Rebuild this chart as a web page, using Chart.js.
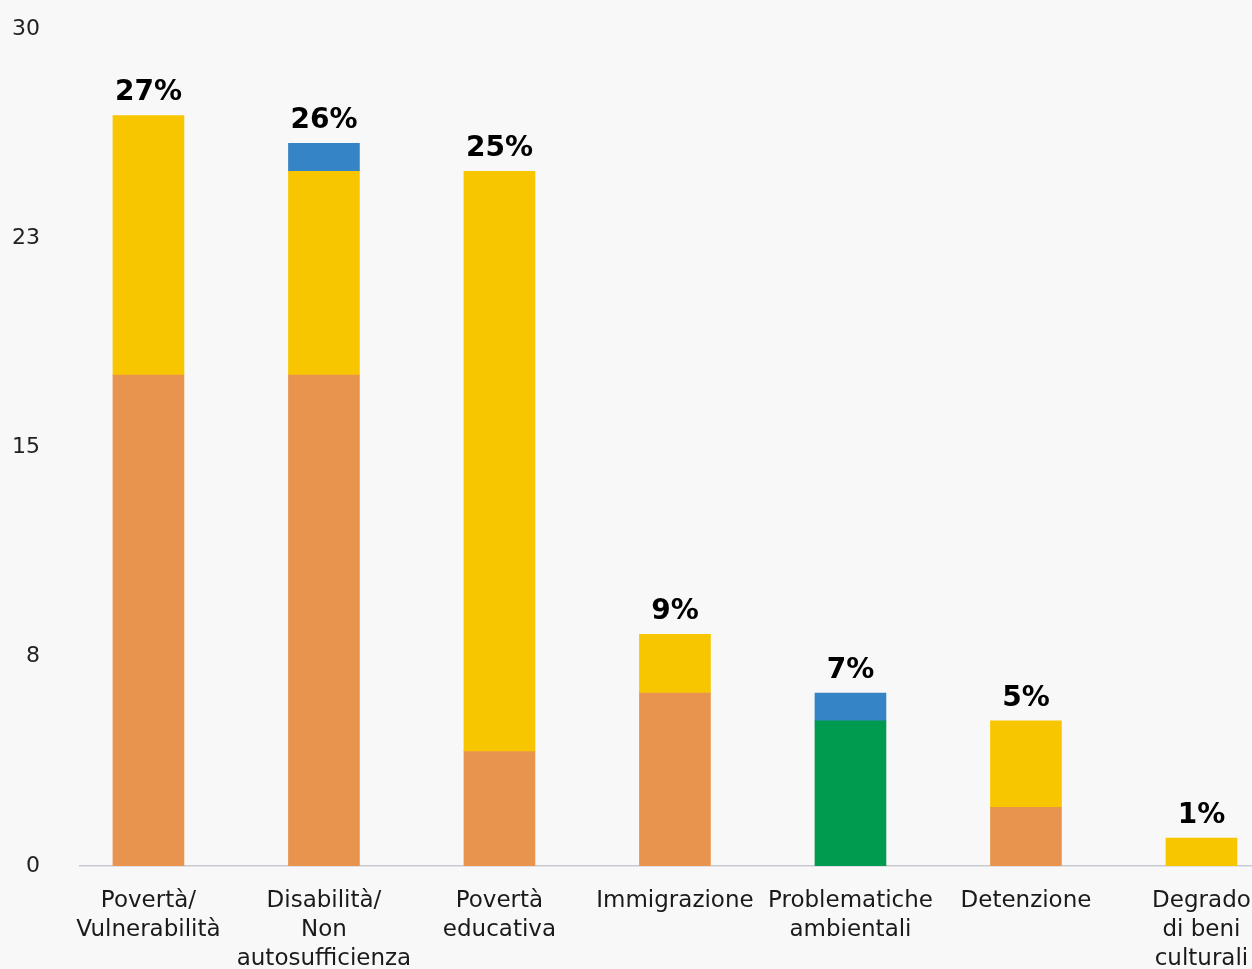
<!DOCTYPE html>
<html>
<head>
<meta charset="utf-8">
<script src="https://cdn.jsdelivr.net/npm/chart.js@4.4.1/dist/chart.umd.min.js"></script>
<style>
  html, body { margin: 0; padding: 0; background: #f8f8f8; overflow: hidden; }
  #wrap { width: 1252px; height: 969px; }
</style>
</head>
<body>
<div id="wrap"><canvas id="c" width="1252" height="969"></canvas></div>
<script>
// ---- data ----
const categories = [
  ["Povertà/", "Vulnerabilità"],
  ["Disabilità/", "Non", "autosufficienza"],
  ["Povertà", "educativa"],
  "Immigrazione",
  ["Problematiche", "ambientali"],
  "Detenzione",
  ["Degrado", "di beni", "culturali"]
];
const seriesOrange = [17.6, 17.6, 4.1, 6.2, 0, 2.1, 0];
const seriesGreen  = [0, 0, 0, 0, 5.2, 0, 0];
const seriesYellow = [9.3, 7.3, 20.8, 2.1, 0, 3.1, 1.0];
const seriesBlue   = [0, 1.0, 0, 0, 1.0, 0, 0];
const totalLabels  = ["27%", "26%", "25%", "9%", "7%", "5%", "1%"];
const yTickValues  = [0, 7.5, 15, 22.5, 30];

const FONT = "'DejaVu Sans', sans-serif";

function toPoints(arr) { return arr.map((v, i) => ({ x: i, y: v === 0 ? null : v })); }

const totalsPlugin = {
  id: 'totals',
  afterDatasetsDraw(chart) {
    const ctx = chart.ctx;
    const xs = chart.scales.x, ys = chart.scales.y;
    ctx.save();
    ctx.font = "bold 28px " + FONT;
    ctx.fillStyle = "#000";
    ctx.textAlign = "center";
    ctx.textBaseline = "alphabetic";
    categories.forEach((c, i) => {
      const total = seriesOrange[i] + seriesGreen[i] + seriesYellow[i] + seriesBlue[i];
      const px = xs.getPixelForValue(i);
      const py = ys.getPixelForValue(total);
      ctx.fillText(totalLabels[i], px, py - 15);
    });
    ctx.restore();
  }
};

const bg = {
  id: 'bg',
  beforeDraw(chart) {
    const ctx = chart.ctx;
    ctx.save();
    ctx.fillStyle = "#f8f8f8";
    ctx.fillRect(0, 0, chart.width, chart.height);
    ctx.restore();
  }
};

const barStyle = { borderWidth: 0, borderColor: 'rgba(0,0,0,0)', barThickness: 71 };

new Chart(document.getElementById('c'), {
  type: 'bar',
  data: {
    datasets: [
      Object.assign({ label: 'a', data: toPoints(seriesOrange), backgroundColor: '#e8944f' }, barStyle),
      Object.assign({ label: 'b', data: toPoints(seriesGreen),  backgroundColor: '#009b4f' }, barStyle),
      Object.assign({ label: 'c', data: toPoints(seriesYellow), backgroundColor: '#f8c600' }, barStyle),
      Object.assign({ label: 'd', data: toPoints(seriesBlue),   backgroundColor: '#3584c6' }, barStyle)
    ]
  },
  options: {
    responsive: false,
    animation: false,
    devicePixelRatio: 1,
    layout: { padding: { top: 29, left: 0, right: 0, bottom: 0 } },
    plugins: { legend: { display: false }, tooltip: { enabled: false } },
    scales: {
      x: {
        type: 'linear',
        stacked: true,
        offset: false,
        min: -0.39,
        max: 6.288,
        grid: { display: false, drawTicks: false, offset: false },
        border: { display: true, color: '#c9c9d1', width: 1.5 },
        ticks: {
          stepSize: 1,
          includeBounds: false,
          autoSkip: false,
          maxRotation: 0,
          minRotation: 0,
          padding: 21,
          color: '#1a1a1a',
          font: { family: FONT, size: 23, lineHeight: 1.25 },
          callback: (v) => Number.isInteger(v) && v >= 0 && v < categories.length ? categories[v] : ''
        },
        afterFit(scale) { scale.height = 103; scale.paddingLeft = 0; scale.paddingRight = 0; }
      },
      y: {
        stacked: true,
        min: 0,
        max: 30,
        grid: { display: false, drawTicks: false },
        border: { display: false },
        afterBuildTicks(scale) { scale.ticks = yTickValues.map(v => ({ value: v })); },
        ticks: {
          padding: 40,
          color: '#222',
          font: { family: FONT, size: 22 },
          callback: (v) => String(Math.round(v))
        },
        afterFit(scale) { scale.width = 80; scale.paddingTop = 0; scale.paddingBottom = 0; }
      }
    }
  },
  plugins: [bg, totalsPlugin]
});
</script>
</body>
</html>
